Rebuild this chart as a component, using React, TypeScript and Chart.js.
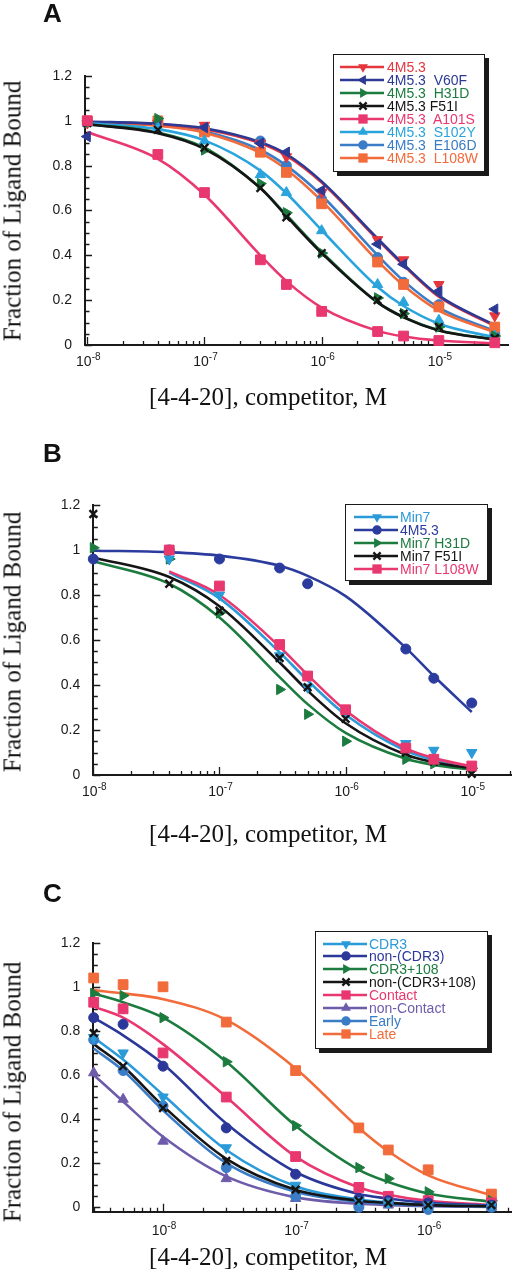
import React, { useEffect, useRef } from "react";
import { Chart, registerables } from "chart.js";
Chart.register(...registerables);

const SANS = '"Liberation Sans", Arial, Helvetica, sans-serif';
const SERIF = '"Liberation Serif", "Times New Roman", Times, serif';

// ---------------- Panel A data ----------------
const xA = [1e-8, 4e-8, 1e-7, 3e-7, 5e-7, 1e-6, 3e-6, 5e-6, 1e-5, 3e-5];
const a4M53Pts = [0.99, 0.99, 0.98, 0.9, 0.84, 0.68, 0.47, 0.38, 0.27, 0.13];
const a4M53Fit = [0.995, 0.985, 0.963, 0.9, 0.845, 0.725, 0.47, 0.355, 0.215, 0.085];
const aV60FPts = [0.93, 0.99, 0.97, 0.9, 0.86, 0.69, 0.45, 0.36, 0.24, 0.16];
const aV60FFit = [0.997, 0.987, 0.967, 0.905, 0.852, 0.73, 0.475, 0.36, 0.22, 0.088];
const aH31DPts = [0.99, 1.01, 0.87, 0.72, 0.59, 0.41, 0.21, 0.14, 0.08, 0.04];
const aH31DFit = [0.985, 0.948, 0.88, 0.7, 0.58, 0.415, 0.19, 0.125, 0.066, 0.025];
const aF51IPts = [0.99, 0.96, 0.88, 0.7, 0.57, 0.41, 0.2, 0.14, 0.08, 0.03];
const aF51IFit = [0.985, 0.945, 0.875, 0.7, 0.575, 0.41, 0.19, 0.123, 0.065, 0.024];
const aA101SPts = [1.0, 0.85, 0.68, 0.38, 0.27, 0.15, 0.06, 0.04, 0.02, 0.01];
const aA101SFit = [0.95, 0.83, 0.67, 0.4, 0.285, 0.167, 0.063, 0.038, 0.02, 0.008];
const aS102YPts = [0.99, 0.97, 0.91, 0.76, 0.68, 0.51, 0.27, 0.19, 0.11, 0.04];
const aS102YFit = [0.99, 0.963, 0.913, 0.778, 0.677, 0.512, 0.259, 0.174, 0.095, 0.034];
const aE106DPts = [1.0, 0.99, 0.97, 0.91, 0.8, 0.65, 0.39, 0.28, 0.18, 0.05];
const aE106DFit = [0.995, 0.98, 0.952, 0.87, 0.8, 0.667, 0.4, 0.286, 0.167, 0.0625];
const aL108WPts = [1.0, 1.0, 0.95, 0.86, 0.77, 0.63, 0.37, 0.27, 0.17, 0.08];
const aL108WFit = [0.995, 0.978, 0.947, 0.857, 0.783, 0.643, 0.375, 0.265, 0.153, 0.057];

// ---------------- Panel B data ----------------
const xB = [1e-8, 4e-8, 1e-7, 3e-7, 5e-7, 1e-6, 3e-6, 5e-6, 1e-5];
const bMin7Pts = [null, 0.96, 0.8, 0.53, 0.39, 0.27, 0.14, 0.11, 0.1];
const bMin7Fit = [null, 0.9, 0.785, 0.545, 0.42, 0.268, 0.108, 0.068, 0.036];
const b4M53Pts = [0.96, 1.0, 0.96, 0.92, 0.85, null, 0.56, 0.43, 0.32];
const b4M53Fit = [0.997, 0.99, 0.975, 0.93, 0.885, 0.795, 0.565, 0.44, 0.28];
const bH31DPts = [1.01, 0.96, 0.72, 0.38, 0.27, 0.15, 0.07, 0.05, 0.03];
const bH31DFit = [0.95, 0.85, 0.7, 0.435, 0.315, 0.187, 0.072, 0.045, 0.023];
const bF51IPts = [1.16, 0.85, 0.73, 0.52, 0.39, 0.25, 0.1, 0.06, 0.005];
const bF51IFit = [0.967, 0.88, 0.75, 0.5, 0.375, 0.23, 0.09, 0.057, 0.029];
const bL108WPts = [null, 1.0, 0.84, 0.58, 0.44, 0.29, 0.12, 0.07, 0.04];
const bL108WFit = [null, 0.905, 0.8, 0.57, 0.445, 0.287, 0.118, 0.075, 0.038];

// ---------------- Panel C data ----------------
const xC = [3e-9, 5e-9, 1e-8, 3e-8, 1e-7, 3e-7, 5e-7, 1e-6, 3e-6];
const cCDR3Pts = [0.77, 0.7, 0.5, 0.27, 0.1, 0.03, 0.02, 0.01, 0.01];
const cCDR3Fit = [0.77, 0.67, 0.51, 0.26, 0.095, 0.035, 0.022, 0.012, 0.005];
const cNonCDR3Pts = [0.86, 0.83, 0.64, 0.36, 0.15, 0.04, 0.03, 0.02, 0.01];
const cNonCDR3Fit = [0.86, 0.78, 0.65, 0.38, 0.16, 0.06, 0.04, 0.02, 0.008];
const cCDR3108Pts = [0.97, 0.96, 0.86, 0.66, 0.37, 0.18, 0.13, 0.07, 0.03];
const cCDR3108Fit = [0.97, 0.93, 0.86, 0.66, 0.37, 0.17, 0.115, 0.063, 0.025];
const cNonCDR3108Pts = [0.79, 0.64, 0.45, 0.21, 0.08, 0.03, 0.02, 0.01, 0.01];
const cNonCDR3108Fit = [0.74, 0.64, 0.46, 0.22, 0.08, 0.03, 0.02, 0.01, 0.004];
const cContactPts = [0.93, 0.9, 0.7, 0.5, 0.23, 0.09, 0.05, 0.03, 0.02];
const cContactFit = [0.91, 0.86, 0.74, 0.5, 0.23, 0.09, 0.057, 0.029, 0.01];
const cNonContactPts = [0.61, 0.49, 0.3, 0.13, 0.04, 0.02, 0.01, 0.01, 0.0];
const cNonContactFit = [0.6, 0.48, 0.32, 0.14, 0.045, 0.016, 0.01, 0.005, 0.002];
const cEarlyPts = [0.76, 0.62, 0.46, 0.18, 0.05, 0.0, 0.02, -0.01, 0.0];
const cEarlyFit = [0.72, 0.62, 0.44, 0.2, 0.07, 0.025, 0.015, 0.008, 0.003];
const cLatePts = [1.04, 1.01, 1.0, 0.84, 0.62, 0.36, 0.26, 0.17, 0.06];
const cLateFit = [0.985, 0.97, 0.944, 0.85, 0.63, 0.36, 0.254, 0.145, 0.054];

// ---------------- Axes / text ----------------
const yTickValues = [0, 0.2, 0.4, 0.6, 0.8, 1, 1.2];
const xTickExpA = [-8, -7, -6, -5];
const xTickExpB = [-8, -7, -6, -5];
const xTickExpC = [-8, -7, -6];
const xTitle = "[4-4-20], competitor, M";
const yTitle = "Fraction of Ligand Bound";

type Shape = "down" | "up" | "left" | "right" | "x" | "square" | "circle";
type Series = { label: string; color: string; shape: Shape; pts: (number | null)[]; fit: (number | null)[]; z: number };

const SHAPES: Record<Shape, { ps: string; rot: number; r: number }> = {
  down: { ps: "triangle", rot: 180, r: 6 },
  up: { ps: "triangle", rot: 0, r: 6 },
  left: { ps: "triangle", rot: 270, r: 6 },
  right: { ps: "triangle", rot: 90, r: 6 },
  x: { ps: "crossRot", rot: 0, r: 5.4 },
  square: { ps: "rect", rot: 0, r: 6.9 },
  circle: { ps: "circle", rot: 0, r: 5 },
};

const seriesA: Series[] = [
  { label: "4M5.3", color: "#e5353d", shape: "down", pts: a4M53Pts, fit: a4M53Fit, z: 6 },
  { label: "4M5.3  V60F", color: "#2c3a94", shape: "left", pts: aV60FPts, fit: aV60FFit, z: 5 },
  { label: "4M5.3  H31D", color: "#1c7b3e", shape: "right", pts: aH31DPts, fit: aH31DFit, z: 3 },
  { label: "4M5.3 F51I", color: "#151515", shape: "x", pts: aF51IPts, fit: aF51IFit, z: 2 },
  { label: "4M5.3  A101S", color: "#e8386f", shape: "square", pts: aA101SPts, fit: aA101SFit, z: 1 },
  { label: "4M5.3  S102Y", color: "#29a4dc", shape: "up", pts: aS102YPts, fit: aS102YFit, z: 4 },
  { label: "4M5.3  E106D", color: "#3a7cc6", shape: "circle", pts: aE106DPts, fit: aE106DFit, z: 8 },
  { label: "4M5.3  L108W", color: "#f26b3b", shape: "square", pts: aL108WPts, fit: aL108WFit, z: 7 },
];

const seriesB: Series[] = [
  { label: "Min7", color: "#2a9ad8", shape: "down", pts: bMin7Pts, fit: bMin7Fit, z: 3 },
  { label: "4M5.3", color: "#2b3c9e", shape: "circle", pts: b4M53Pts, fit: b4M53Fit, z: 5 },
  { label: "Min7 H31D", color: "#1c7b3e", shape: "right", pts: bH31DPts, fit: bH31DFit, z: 4 },
  { label: "Min7 F51I", color: "#151515", shape: "x", pts: bF51IPts, fit: bF51IFit, z: 2 },
  { label: "Min7 L108W", color: "#e8386f", shape: "square", pts: bL108WPts, fit: bL108WFit, z: 1 },
];

const seriesC: Series[] = [
  { label: "CDR3", color: "#2a9ad8", shape: "down", pts: cCDR3Pts, fit: cCDR3Fit, z: 2 },
  { label: "non-(CDR3)", color: "#2b389a", shape: "circle", pts: cNonCDR3Pts, fit: cNonCDR3Fit, z: 4 },
  { label: "CDR3+108", color: "#1c7b3e", shape: "right", pts: cCDR3108Pts, fit: cCDR3108Fit, z: 6 },
  { label: "non-(CDR3+108)", color: "#151515", shape: "x", pts: cNonCDR3108Pts, fit: cNonCDR3108Fit, z: 1 },
  { label: "Contact", color: "#e8386f", shape: "square", pts: cContactPts, fit: cContactFit, z: 5 },
  { label: "non-Contact", color: "#6e5cab", shape: "up", pts: cNonContactPts, fit: cNonContactFit, z: 7 },
  { label: "Early", color: "#3a7cc6", shape: "circle", pts: cEarlyPts, fit: cEarlyFit, z: 3 },
  { label: "Late", color: "#f26b3b", shape: "square", pts: cLatePts, fit: cLateFit, z: 8 },
];

type PanelCfg = {
  letter: string; top: number; h: number;
  xs: number[]; series: Series[]; xMin: number; xMax: number; yMin: number; yMax: number; exps: number[];
  area: { left: number; right: number; top: number; bottom: number }; labelOffset: number;
  yTitleY: number; xTitleY: number; letterTop: number;
  legend: { left: number; top: number; w: number; h: number; row0: number; step: number; l0: number; l1: number; tx: number };
};

const panels: PanelCfg[] = [
  {
    letter: "A", top: 0, h: 430, xs: xA, series: seriesA, xMin: 9.56e-9, xMax: 3.89e-5, yMin: 0, yMax: 1.2, exps: xTickExpA,
    area: { left: 85, right: 508, top: 76, bottom: 345 }, labelOffset: 21,
    yTitleY: 211, xTitleY: 396, letterTop: 0,
    legend: { left: 333, top: 54, w: 152, h: 118, row0: 67, step: 12.95, l0: 340, l1: 384, tx: 387 },
  },
  {
    letter: "B", top: 430, h: 430, xs: xB, series: seriesB, xMin: 1e-8, xMax: 2.05e-5, yMin: 0, yMax: 1.2, exps: xTickExpB,
    area: { left: 93.3, right: 517.3, top: 75, bottom: 345 }, labelOffset: 21,
    yTitleY: 212, xTitleY: 403, letterTop: 10,
    legend: { left: 345, top: 74, w: 143, h: 77, row0: 87, step: 13, l0: 354, l1: 398, tx: 400 },
  },
  {
    letter: "C", top: 860, h: 420, xs: xC, series: seriesC, xMin: 2.98e-9, xMax: 4.22e-6, yMin: -0.02, yMax: 1.2, exps: xTickExpC,
    area: { left: 93.3, right: 516.7, top: 82.7, bottom: 351.7 }, labelOffset: 23,
    yTitleY: 232, xTitleY: 396, letterTop: 20,
    legend: { left: 315, top: 71, w: 173, h: 118, row0: 83.5, step: 12.95, l0: 323, l1: 367, tx: 369 },
  },
];

const axisDecor = {
  id: "axisDecor",
  beforeDatasetsDraw(chart: any, _a: any, opts: any) {
    const { ctx, chartArea: ca } = chart;
    const xs = chart.scales.x;
    const ys = chart.scales.y;
    ctx.save();
    ctx.strokeStyle = "#1a1a1a";
    ctx.lineWidth = 1.3;
    ctx.beginPath();
    for (let i = 0; i <= 24; i++) {
      const v = i * 0.05;
      const py = Math.round(ys.getPixelForValue(v)) + 0.5;
      const len = i % 4 === 0 ? 7 : 4.5;
      ctx.moveTo(ca.left, py);
      ctx.lineTo(ca.left + len, py);
    }
    const e0 = Math.floor(Math.log10(xs.min));
    const e1 = Math.ceil(Math.log10(xs.max));
    for (let e = e0; e <= e1; e++) {
      for (let k = 1; k <= 9; k++) {
        const v = k * Math.pow(10, e);
        if (v < xs.min * 0.999 || v > xs.max * 1.001) continue;
        const px = Math.round(xs.getPixelForValue(v)) + 0.5;
        const len = k === 1 ? 8 : 4;
        ctx.moveTo(px, ca.bottom);
        ctx.lineTo(px, ca.bottom - len);
      }
    }
    ctx.stroke();
    ctx.fillStyle = "#1a1a1a";
    ctx.textBaseline = "alphabetic";
    ctx.textAlign = "left";
    const baseY = ca.bottom + opts.labelOffset;
    for (const e of opts.exps as number[]) {
      const v = Math.pow(10, e);
      const px = xs.getPixelForValue(v);
      ctx.font = `14px ${SANS}`;
      const w1 = ctx.measureText("10").width;
      const sup = String(e);
      ctx.font = `10px ${SANS}`;
      const w2 = ctx.measureText(sup).width;
      const sx = px - (w1 + w2) / 2 + 1;
      ctx.font = `14px ${SANS}`;
      ctx.fillText("10", sx, baseY);
      ctx.font = `10px ${SANS}`;
      ctx.fillText(sup, sx + w1, baseY - 6);
    }
    ctx.restore();
  },
};

function buildDatasets(xs: number[], series: Series[]) {
  const ds: any[] = [];
  series.forEach((s) => {
    const st = SHAPES[s.shape];
    ds.push({
      label: s.label + " fit",
      data: xs.map((x, i) => ({ x, y: s.fit[i] })),
      borderColor: s.color,
      backgroundColor: s.color,
      borderWidth: 2.6,
      pointRadius: 0,
      pointHoverRadius: 0,
      cubicInterpolationMode: "monotone",
      fill: false,
      spanGaps: false,
      clip: false,
      order: 50 + s.z,
    });
    ds.push({
      label: s.label,
      data: xs.map((x, i) => ({ x, y: s.pts[i] })),
      showLine: false,
      borderColor: s.color,
      backgroundColor: s.color,
      pointStyle: st.ps,
      pointRotation: st.rot,
      pointRadius: st.r,
      pointHoverRadius: st.r,
      pointBackgroundColor: s.color,
      pointBorderColor: s.color,
      pointBorderWidth: s.shape === "x" ? 2.4 : 1,
      clip: false,
      order: s.z,
    });
  });
  return ds;
}

function Marker({ shape, color, cx, cy }: { shape: Shape; color: string; cx: number; cy: number }) {
  const st = SHAPES[shape];
  const r = st.r * 0.95;
  if (shape === "circle") return <circle cx={cx} cy={cy} r={r} fill={color} />;
  if (shape === "square") {
    const s = Math.SQRT1_2 * r;
    return <rect x={cx - s} y={cy - s} width={2 * s} height={2 * s} fill={color} />;
  }
  if (shape === "x") {
    const d = r * Math.SQRT1_2;
    return (
      <g stroke={color} strokeWidth={2.3}>
        <line x1={cx - d} y1={cy - d} x2={cx + d} y2={cy + d} />
        <line x1={cx - d} y1={cy + d} x2={cx + d} y2={cy - d} />
      </g>
    );
  }
  const pts: string[] = [];
  for (let i = 0; i < 3; i++) {
    const a = ((st.rot + i * 120) * Math.PI) / 180;
    pts.push(`${cx + Math.sin(a) * r},${cy - Math.cos(a) * r}`);
  }
  return <polygon points={pts.join(" ")} fill={color} />;
}

function Panel({ cfg }: { cfg: PanelCfg }) {
  const ref = useRef<HTMLCanvasElement>(null);
  useEffect(() => {
    const W = 519;
    const chart = new Chart(ref.current as HTMLCanvasElement, {
      type: "line",
      data: { datasets: buildDatasets(cfg.xs, cfg.series) },
      options: {
        responsive: false,
        animation: false,
        devicePixelRatio: 1,
        layout: { padding: { left: 0, right: W - cfg.area.right, top: cfg.area.top, bottom: 0 } },
        plugins: {
          legend: { display: false },
          tooltip: { enabled: false },
          axisDecor: { exps: cfg.exps, labelOffset: cfg.labelOffset },
        } as any,
        scales: {
          x: {
            type: "logarithmic",
            position: "bottom",
            min: cfg.xMin,
            max: cfg.xMax,
            grid: { display: false, drawTicks: false },
            border: { display: true, color: "#1a1a1a", width: 2 },
            ticks: { display: false },
            afterFit: (s: any) => {
              s.height = cfg.h - cfg.area.bottom;
            },
          },
          y: {
            type: "linear",
            position: "left",
            min: cfg.yMin,
            max: cfg.yMax,
            grid: { display: false, drawTicks: false },
            border: { display: true, color: "#1a1a1a", width: 2 },
            ticks: {
              color: "#1a1a1a",
              padding: 13,
              font: { family: SANS, size: 14 },
              callback: (v: any) => String(Number(Number(v).toFixed(2))),
            },
            afterBuildTicks: (s: any) => {
              s.ticks = yTickValues.map((v) => ({ value: v }));
            },
            afterFit: (s: any) => {
              s.width = cfg.area.left;
            },
          },
        },
      } as any,
      plugins: [axisDecor],
    });
    return () => chart.destroy();
  }, [cfg]);

  const lg = cfg.legend;
  return (
    <div style={{ position: "absolute", left: 0, top: cfg.top, width: 519, height: cfg.h }}>
      <canvas ref={ref} width={519} height={cfg.h} style={{ position: "absolute", left: 0, top: 0, width: 519, height: cfg.h }} />
      <div style={{ position: "absolute", left: 43, top: cfg.letterTop, font: `bold 26px ${SANS}`, lineHeight: "26px", color: "#111" }}>
        {cfg.letter}
      </div>
      <div
        style={{
          position: "absolute", left: 12, top: cfg.yTitleY, transform: "translate(-50%, -50%) rotate(-90deg)",
          whiteSpace: "nowrap", font: `25px ${SERIF}`, lineHeight: "25px", color: "#111",
        }}
      >
        {yTitle}
      </div>
      <div
        style={{
          position: "absolute", left: 268, top: cfg.xTitleY, transform: "translate(-50%, -50%)",
          whiteSpace: "nowrap", font: `25px ${SERIF}`, lineHeight: "25px", color: "#111",
        }}
      >
        {xTitle}
      </div>
      <div
        style={{
          position: "absolute", left: lg.left, top: lg.top, width: lg.w, height: lg.h, boxSizing: "border-box",
          border: "1px solid #1a1a1a", boxShadow: "4px 4px 0 #1a1a1a", background: "#fff",
        }}
      />
      {cfg.series.map((s, i) => {
        const cy = lg.row0 + i * lg.step;
        const w = lg.l1 - lg.l0;
        return (
          <React.Fragment key={s.label}>
            <svg style={{ position: "absolute", left: lg.l0, top: cy - 7 }} width={w} height={14}>
              <line x1={0} y1={7} x2={w} y2={7} stroke={s.color} strokeWidth={2.4} />
              <Marker shape={s.shape} color={s.color} cx={w / 2 + 1} cy={7} />
            </svg>
            <div
              style={{
                position: "absolute", left: lg.tx, top: cy - 8, font: `14px ${SANS}`, lineHeight: "16px",
                color: s.color, whiteSpace: "pre",
              }}
            >
              {s.label}
            </div>
          </React.Fragment>
        );
      })}
    </div>
  );
}

export default function App() {
  return (
    <div style={{ position: "absolute", left: 0, top: 0, width: 519, height: 1280, background: "#fff" }}>
      {panels.map((p) => (
        <Panel key={p.letter} cfg={p} />
      ))}
    </div>
  );
}
